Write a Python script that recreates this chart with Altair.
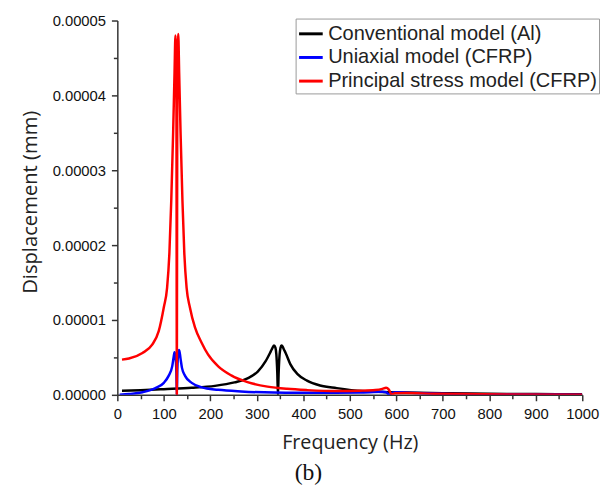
import altair as alt
import pandas as pd

# Conventional model (Al) - black
conv_f = [10, 50, 100, 160, 210, 252, 280, 302, 319, 330, 334, 337, 340, 342, 344, 345.5, 347, 349, 351, 353, 355, 358, 362, 372, 387, 408, 436, 472, 527, 570, 620, 700, 800, 900, 1000]
conv_v = [0.54, 0.62, 0.76, 0.94, 1.2, 1.66, 2.2, 3.1, 4.5, 5.8, 6.3, 6.6, 6.3, 5.4, 3.0, 0.0, 3.0, 5.4, 6.3, 6.6, 6.5, 6.1, 5.6, 4.1, 2.8, 1.9, 1.25, 0.9, 0.5, 0.38, 0.3, 0.22, 0.15, 0.1, 0.08]

# Uniaxial model (CFRP) - blue
uni_f = [5, 25, 54, 82, 100, 110, 118, 121, 123, 125, 127, 128, 129, 131, 133, 136, 139, 146, 160, 181, 217, 266, 337, 443, 520, 570, 578, 585, 592, 600, 640, 700, 800, 900, 1000]
uni_v = [0.0, 0.1, 0.35, 0.9, 1.6, 2.5, 3.8, 5.0, 5.7, 5.2, 3.0, 0.0, 3.2, 5.6, 6.0, 4.8, 3.6, 2.5, 1.6, 1.0, 0.67, 0.45, 0.3, 0.27, 0.3, 0.4, 0.35, 0.0, 0.3, 0.35, 0.25, 0.15, 0.08, 0.05, 0.03]

# Principal stress model (CFRP) - red
prin_f = [10, 25, 54, 75, 89, 100, 107, 112, 116, 120, 123, 125, 127, 128, 129, 131, 133, 136, 140, 144, 149, 156, 167, 181, 195, 217, 245, 280, 323, 365, 408, 472, 520, 555, 570, 578, 584, 590, 597, 620, 680, 750, 850, 1000]
prin_v = [4.7, 4.85, 5.6, 6.7, 8.5, 11.7, 14.3, 19.0, 26.0, 35.0, 43.0, 48.0, 42.0, 0.0, 42.0, 48.2, 43.0, 35.0, 26.0, 19.0, 14.3, 11.7, 9.0, 7.0, 5.4, 3.8, 2.6, 1.7, 1.1, 0.8, 0.63, 0.5, 0.55, 0.65, 0.8, 0.95, 0.7, 0.05, 0.2, 0.25, 0.15, 0.1, 0.05, 0.03]

series_names = ["Conventional model (Al)", "Uniaxial model (CFRP)", "Principal stress model (CFRP)"]
series_colors = ["#000000", "#0000FF", "#FF0000"]

rows = []
for name, fs, vs in zip(series_names, [conv_f, uni_f, prin_f], [conv_v, uni_v, prin_v]):
    for f, v in zip(fs, vs):
        rows.append({"series": name, "freq": f, "disp": v * 1e-6})
df = pd.DataFrame(rows)

x_ticks = list(range(0, 1001, 50))
y_ticks = [i * 5e-6 for i in range(11)]

axis_color = "#333333"
label_font = "Liberation Sans"

chart = alt.Chart(df).mark_line(strokeWidth=2.5, clip=True, interpolate="monotone").encode(
    x=alt.X("freq:Q",
            scale=alt.Scale(domain=[0, 1000], nice=False, zero=False),
            axis=alt.Axis(title="Frequency (Hz)", values=x_ticks,
                          labelExpr="datum.value % 100 == 0 ? format(datum.value, 'd') : ''",
                          tickSize={"condition": {"test": "datum.value % 100 != 0", "value": 4}, "value": 6},
                          labelFlush=False, grid=False)),
    y=alt.Y("disp:Q",
            scale=alt.Scale(domain=[0, 0.00005], nice=False),
            axis=alt.Axis(title="Displacement (mm)", values=y_ticks,
                          labelExpr="round(datum.value * 1e6) % 10 == 0 ? format(datum.value, '.5f') : ''",
                          tickSize={"condition": {"test": "round(datum.value * 1e6) % 10 != 0", "value": 4}, "value": 6},
                          labelFlush=False, grid=False, titleY=184)),
    color=alt.Color("series:N",
                    scale=alt.Scale(domain=series_names, range=series_colors),
                    sort=series_names,
                    legend=alt.Legend(title=None, orient="none", legendX=181, legendY=-2,
                                      symbolType="stroke", symbolSize=576, symbolStrokeWidth=3,
                                      labelFontSize=20.3, labelFont=label_font, labelColor="#222222",
                                      labelLimit=400, rowPadding=-10, padding=2,
                                      strokeColor="#999999", fillColor="white", labelOffset=4)),
    detail="series:N",
    order="freq:Q",
).properties(
    width=472,
    height=380,
    autosize=alt.AutoSizeParams(type="none"),
    padding={"left": 111, "top": 9, "right": 18, "bottom": 100},
    title=alt.TitleParams("(b)", orient="bottom", font="Liberation Serif", fontSize=24,
                          fontWeight="normal", color="#111111", offset=9, dx=-42),
).configure_view(
    stroke=None
).configure_axis(
    domainColor=axis_color,
    domainWidth=1.5,
    tickColor=axis_color,
    tickWidth=1.5,
    labelFont=label_font,
    labelFontSize=15,
    labelColor="#111111",
    titleFont="Open Sans",
    titleFontSize=20,
    titleFontWeight="normal",
    titleColor="#222222",
).configure_axisY(
    titlePadding=12,
    labelPadding=6,
    titleFontSize=20.5,
).configure_axisX(
    titlePadding=11,
    labelPadding=6,
)

chart.save("out.html", embed_options={"renderer": "svg", "actions": False})
